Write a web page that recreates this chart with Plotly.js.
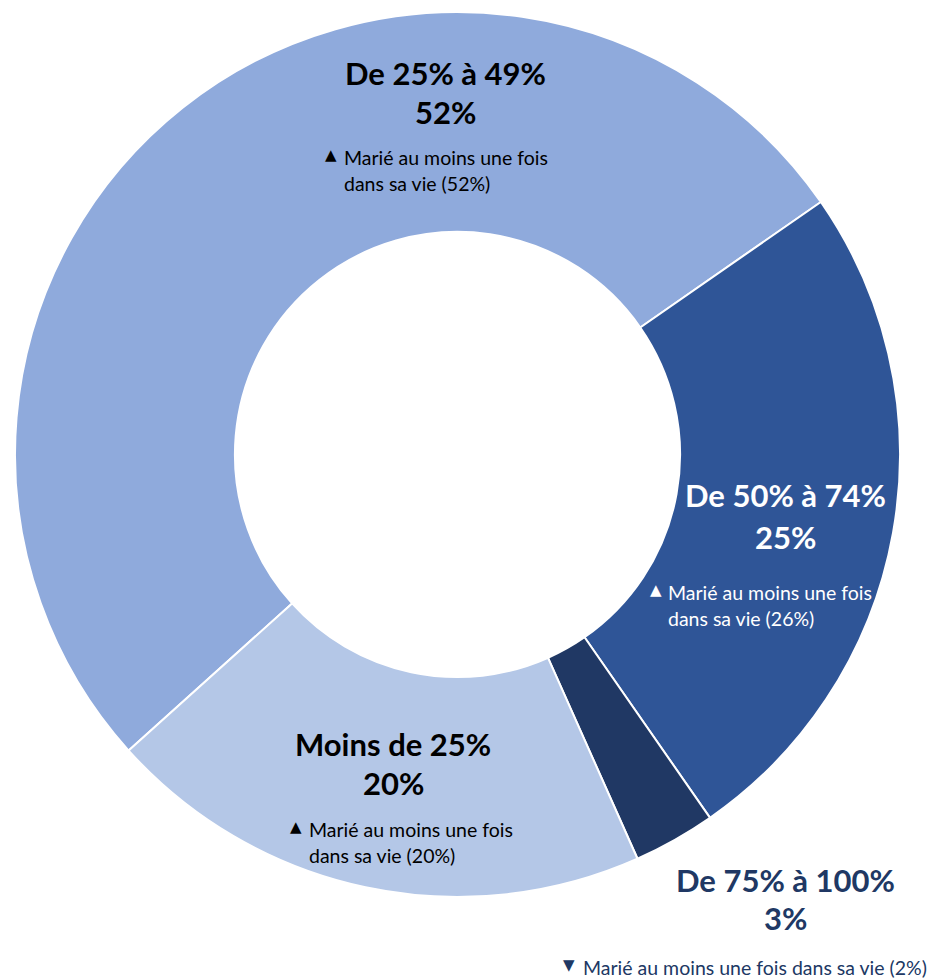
<!DOCTYPE html>
<html>
<head>
<meta charset="utf-8">
<script src="https://cdn.plot.ly/plotly-3.0.1.min.js"></script>
<style>html,body{margin:0;padding:0;background:#fff;}#chart{width:938px;height:978px;}</style>
</head>
<body>
<div id="chart"></div>
<script>
// ---- data ----
var categories = ["De 25% à 49%", "De 50% à 74%", "De 75% à 100%", "Moins de 25%"];
var shares = [52, 25, 3, 20];
var shareLabels = ["52%", "25%", "3%", "20%"];
var marriedLabels = ["Marié au moins une fois dans sa vie (52%)", "Marié au moins une fois dans sa vie (26%)", "Marié au moins une fois dans sa vie (2%)", "Marié au moins une fois dans sa vie (20%)"];
var trendArrows = ["▲", "▲", "▼", "▲"];

// ---- styles ----
var colors = ["#8FAADC", "#2F5597", "#203864", "#B4C7E7"];
var textColors = ["#000000", "#ffffff", "#203864", "#000000"];
var W = 938, H = 978;
function px(x){return x / W;}
function py(y){return 1 - y / H;}
var FONT = "Lato, 'Open Sans', sans-serif";
var BIG = 31, SMALL = 19.5;

// label placement (pixel positions)
var place = [
  {cx: 445, y1: 73, y2: 112, bx: 331, tx: 342, s1: 157, s2: 183, one: false},
  {cx: 785, y1: 495, y2: 537, bx: 656, tx: 666, s1: 592, s2: 618, one: false},
  {cx: 785, y1: 880, y2: 918, bx: 569, tx: 581, s1: 967, s2: 0, one: true},
  {cx: 393, y1: 744, y2: 783, bx: 296, tx: 307, s1: 829, s2: 855, one: false}
];

var annotations = [];
for (var i = 0; i < categories.length; i++) {
  var p = place[i], c = textColors[i];
  annotations.push({xref:'paper', yref:'paper', x:px(p.cx), y:py(p.y1), text:'<b>'+categories[i]+'</b>', showarrow:false, xanchor:'center', yanchor:'middle', font:{family:FONT, size:BIG, color:c}});
  annotations.push({xref:'paper', yref:'paper', x:px(p.cx), y:py(p.y2), text:'<b>'+shareLabels[i]+'</b>', showarrow:false, xanchor:'center', yanchor:'middle', font:{family:FONT, size:BIG, color:c}});
  annotations.push({xref:'paper', yref:'paper', x:px(p.bx), y:py(p.s1 - 2), text:trendArrows[i], showarrow:false, xanchor:'center', yanchor:'middle', font:{family:'DejaVu Sans, sans-serif', size:15, color:c}});
  var words = marriedLabels[i];
  if (p.one) {
    annotations.push({xref:'paper', yref:'paper', x:px(p.tx), y:py(p.s1), text:words, showarrow:false, xanchor:'left', yanchor:'middle', font:{family:FONT, size:SMALL, color:c}});
  } else {
    var cut = words.indexOf(' dans');
    annotations.push({xref:'paper', yref:'paper', x:px(p.tx), y:py(p.s1), text:words.slice(0, cut), showarrow:false, xanchor:'left', yanchor:'middle', font:{family:FONT, size:SMALL, color:c}});
    annotations.push({xref:'paper', yref:'paper', x:px(p.tx), y:py(p.s2), text:words.slice(cut + 1), showarrow:false, xanchor:'left', yanchor:'middle', font:{family:FONT, size:SMALL, color:c}});
  }
}

var trace = {
  type: 'pie',
  labels: categories,
  values: shares,
  hole: 0.503,
  sort: false,
  direction: 'clockwise',
  rotation: 228,
  textinfo: 'none',
  hoverinfo: 'skip',
  marker: {colors: colors, line: {color: '#ffffff', width: 2}},
  domain: {x: [px(15), px(900)], y: [py(897), py(12)]},
  showlegend: false
};

var layout = {
  width: W, height: H,
  margin: {l:0, r:0, t:0, b:0, pad:0},
  paper_bgcolor: '#ffffff',
  plot_bgcolor: '#ffffff',
  showlegend: false,
  annotations: annotations
};

Plotly.newPlot('chart', [trace], layout, {displayModeBar: false, staticPlot: true});
</script>
</body>
</html>
